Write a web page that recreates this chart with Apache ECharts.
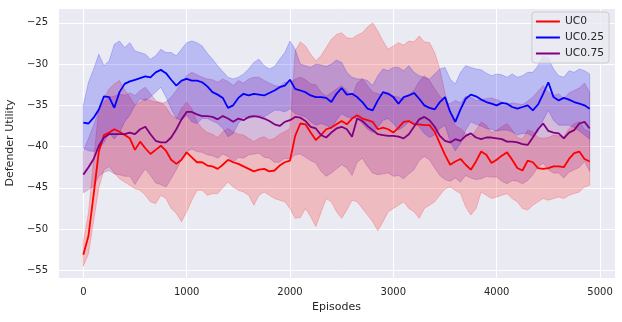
<!DOCTYPE html>
<html>
<head>
<meta charset="utf-8">
<script src="https://cdn.jsdelivr.net/npm/echarts@6/dist/echarts.min.js"></script>
<style>
html, body { margin: 0; padding: 0; background: #ffffff; }
#chart { width: 622px; height: 322px; }
</style>
</head>
<body>
<div id="chart"></div>
<script>
// episodes, every 50
let episodes = [
    0, 50, 100, 150, 200, 250, 300, 350, 400, 450,
    500, 550, 600, 650, 700, 750, 800, 850, 900, 950,
    1000, 1050, 1100, 1150, 1200, 1250, 1300, 1350, 1400, 1450,
    1500, 1550, 1600, 1650, 1700, 1750, 1800, 1850, 1900, 1950,
    2000, 2050, 2100, 2150, 2200, 2250, 2300, 2350, 2400, 2450,
    2500, 2550, 2600, 2650, 2700, 2750, 2800, 2850, 2900, 2950,
    3000, 3050, 3100, 3150, 3200, 3250, 3300, 3350, 3400, 3450,
    3500, 3550, 3600, 3650, 3700, 3750, 3800, 3850, 3900, 3950,
    4000, 4050, 4100, 4150, 4200, 4250, 4300, 4350, 4400, 4450,
    4500, 4550, 4600, 4650, 4700, 4750, 4800, 4850, 4900
];

// UC0
let uc0_mean = [
    -53.1, -50.8, -45.8, -40.6, -38.6, -38.3, -37.9, -38.2, -38.6, -39.0,
    -40.4, -39.4, -40.2, -40.9, -40.4, -39.9, -40.5, -41.6, -42.1, -41.6,
    -40.7, -41.3, -41.9, -41.9, -42.3, -42.4, -42.7, -42.2, -41.6, -41.9,
    -42.1, -42.4, -42.7, -43.0, -42.8, -42.7, -43.0, -42.9, -42.3, -41.9,
    -41.7, -38.7, -37.2, -37.3, -38.3, -39.2, -38.6, -37.9, -37.7, -37.3,
    -36.9, -37.3, -36.6, -36.2, -36.6, -36.8, -37.0, -37.9, -37.7, -37.9,
    -38.3, -37.7, -37.0, -36.9, -37.3, -37.3, -37.4, -37.4, -38.2, -39.6,
    -41.0, -42.2, -41.8, -41.5, -42.2, -42.8, -41.8, -40.6, -41.0, -42.0,
    -41.6, -41.1, -40.7, -41.6, -42.6, -42.9, -41.7, -41.9, -42.6, -42.7,
    -42.6, -42.4, -42.4, -42.5, -41.5, -40.8, -40.6, -41.5, -41.8
];
let uc0_upper = [
    -51.5, -48.0, -41.5, -35.5, -34.2, -33.0, -32.4, -32.0, -33.1, -34.0,
    -35.0, -34.6, -34.2, -34.4, -34.6, -34.6, -35.2, -36.2, -36.6, -35.4,
    -34.6, -35.4, -37.0, -37.8, -38.3, -38.5, -38.9, -38.2, -37.8, -38.2,
    -38.5, -38.6, -39.0, -39.4, -39.0, -38.8, -39.2, -39.0, -38.5, -38.2,
    -37.8, -28.4, -27.3, -27.8, -28.8, -29.6, -29.0, -28.0, -27.0, -26.4,
    -26.2, -26.8, -26.9, -26.5, -26.2, -25.5, -25.0, -26.0, -27.2, -28.2,
    -27.8, -27.4, -27.7, -27.2, -27.3, -26.6, -27.3, -27.4, -28.6, -30.6,
    -33.5, -35.8, -37.5, -37.8, -38.4, -38.8, -38.0, -37.0, -37.4, -38.3,
    -38.0, -37.6, -37.2, -38.0, -38.9, -39.1, -38.0, -38.2, -38.9, -39.0,
    -38.9, -38.6, -38.7, -38.8, -37.8, -37.2, -37.0, -37.9, -38.2
];
let uc0_lower = [
    -54.5, -53.0, -49.0, -45.0, -42.8, -42.4, -43.2, -43.9, -44.3, -44.7,
    -45.1, -45.3, -45.9, -46.7, -46.9, -45.9, -46.3, -47.5, -48.1, -49.1,
    -47.9, -46.5, -45.3, -45.3, -45.9, -45.7, -45.7, -45.0, -44.3, -44.9,
    -45.3, -45.5, -45.9, -47.1, -45.9, -45.5, -45.9, -46.3, -46.5, -46.7,
    -47.5, -48.7, -48.6, -47.5, -48.5, -49.7, -48.0, -46.3, -46.7, -47.9,
    -48.7, -47.7, -46.5, -46.7, -47.5, -48.3, -49.1, -50.2, -49.1, -47.9,
    -47.5, -47.1, -46.7, -47.5, -47.9, -48.7, -47.5, -47.1, -46.7, -45.9,
    -45.1, -44.9, -45.3, -45.7, -47.3, -48.3, -47.5, -45.5, -45.9, -46.3,
    -46.1, -45.9, -45.7, -46.3, -46.7, -47.5, -47.7, -47.1, -46.7, -46.3,
    -46.5, -46.3, -46.1, -46.3, -45.9, -45.7, -45.5, -44.9, -44.7
];

// UC0.25
let uc025_mean = [
    -37.1, -37.2, -36.5, -35.5, -33.9, -34.0, -35.3, -33.4, -32.4, -32.1,
    -31.9, -31.7, -31.5, -31.6, -31.0, -30.7, -31.1, -31.9, -32.6, -32.0,
    -31.8, -32.0, -32.0, -32.2, -32.7, -33.4, -33.7, -34.1, -35.3, -35.0,
    -34.1, -33.6, -33.8, -33.6, -33.7, -33.8, -33.5, -33.2, -32.8, -32.6,
    -31.9, -33.0, -33.2, -33.4, -33.8, -34.0, -34.0, -34.1, -34.6, -33.6,
    -32.9, -33.7, -33.6, -34.0, -34.6, -35.4, -35.6, -34.4, -33.4, -33.6,
    -34.0, -34.8, -34.0, -33.8, -33.5, -34.2, -35.0, -35.3, -35.5, -34.6,
    -34.0, -35.8, -37.0, -35.5, -34.2, -33.7, -33.9, -34.3, -34.6, -34.8,
    -35.0, -34.7, -34.8, -35.2, -35.4, -35.2, -35.0, -35.6, -34.9, -33.6,
    -32.2, -34.0, -34.4, -34.1, -34.3, -34.6, -34.8, -35.0, -35.4
];
let uc025_upper = [
    -35.0, -32.2, -30.6, -28.8, -30.2, -29.6, -27.6, -27.2, -28.0, -27.4,
    -28.4, -28.6, -28.8, -29.4, -29.0, -28.2, -28.6, -28.6, -29.0, -28.2,
    -27.4, -27.2, -27.4, -27.8, -28.7, -29.4, -30.2, -30.9, -31.6, -31.8,
    -31.6, -31.2, -30.6, -29.8, -29.4, -30.2, -30.6, -30.3, -29.4, -28.6,
    -27.2, -28.2, -30.0, -30.2, -30.4, -30.0, -30.1, -30.3, -30.0, -29.5,
    -29.8, -31.0, -31.6, -31.8, -31.8, -32.0, -32.6, -31.4, -30.6, -30.8,
    -30.4, -30.4, -30.8, -30.2, -31.0, -31.4, -31.6, -31.8, -31.2, -30.6,
    -30.4, -31.8, -32.4, -31.0, -30.2, -30.4, -30.6, -30.7, -31.1, -31.4,
    -31.2, -31.3, -31.6, -31.2, -31.6, -31.4, -31.0, -31.0, -30.2, -29.0,
    -29.3, -30.6, -31.4, -31.6, -30.8, -31.0, -30.6, -30.8, -31.2
];
let uc025_lower = [
    -40.2, -40.5, -40.6, -40.2, -39.5, -38.3, -39.1, -38.3, -37.0, -36.2,
    -35.0, -34.2, -34.4, -34.0, -33.4, -32.8, -34.0, -35.4, -36.6, -36.8,
    -36.2, -37.0, -37.2, -36.6, -36.6, -36.9, -37.2, -37.8, -38.8, -38.4,
    -37.2, -36.4, -36.6, -36.4, -36.2, -36.4, -36.0, -35.6, -35.6, -35.8,
    -35.4, -36.0, -36.2, -36.4, -37.0, -37.4, -37.2, -37.4, -37.8, -36.8,
    -36.0, -36.4, -36.5, -36.6, -37.2, -37.9, -38.3, -37.7, -36.8, -36.6,
    -37.2, -38.0, -37.6, -37.0, -37.1, -37.6, -38.4, -38.9, -38.6, -37.8,
    -37.4, -39.4, -40.5, -39.6, -38.0, -37.0, -37.3, -37.5, -37.8, -37.9,
    -38.1, -38.0, -38.0, -38.2, -38.6, -38.4, -38.4, -38.8, -38.2, -36.8,
    -35.6, -36.8, -37.4, -37.4, -37.4, -37.7, -38.1, -38.6, -39.1
];

// UC0.75
let uc075_mean = [
    -43.4, -42.5, -41.5, -39.9, -38.9, -38.5, -38.5, -38.5, -38.5, -38.3,
    -38.5, -37.9, -37.6, -38.5, -39.3, -39.5, -39.5, -38.9, -37.9, -36.7,
    -35.8, -35.8, -36.1, -36.3, -36.3, -36.4, -36.7, -36.3, -36.6, -37.0,
    -36.6, -36.8, -36.4, -36.3, -36.4, -36.6, -36.9, -37.3, -37.5, -37.0,
    -36.8, -36.4, -36.5, -36.9, -37.6, -37.8, -38.6, -38.9, -38.3, -37.8,
    -37.6, -37.9, -38.8, -36.6, -36.9, -37.5, -38.0, -38.5, -38.6, -38.7,
    -38.7, -38.8, -39.0, -38.5, -37.6, -36.7, -36.4, -36.8, -37.6, -38.7,
    -39.3, -39.5, -39.1, -39.3, -38.7, -38.4, -38.9, -39.1, -38.9, -38.9,
    -39.0, -39.1, -39.4, -39.4, -39.5, -39.7, -39.8, -38.9, -37.9, -37.2,
    -38.1, -38.3, -38.4, -39.0, -38.3, -38.0, -37.2, -37.0, -37.8
];
let uc075_upper = [
    -40.6, -39.0, -37.4, -35.6, -34.6, -34.0, -33.9, -33.6, -33.8, -33.5,
    -33.8, -33.2, -32.8, -33.6, -34.4, -34.8, -34.6, -34.0, -33.2, -32.2,
    -31.4, -31.0, -31.3, -31.6, -31.8, -31.9, -32.2, -31.8, -32.1, -32.6,
    -32.0, -32.3, -31.8, -31.6, -31.6, -32.0, -32.3, -32.6, -32.7, -32.2,
    -32.3, -31.8, -31.6, -31.9, -32.4, -32.5, -33.4, -33.9, -33.5, -33.0,
    -32.6, -33.2, -34.0, -32.3, -31.8, -32.6, -33.4, -33.6, -33.7, -33.4,
    -33.9, -34.0, -34.3, -33.7, -33.2, -32.1, -31.4, -32.0, -33.0, -33.9,
    -34.6, -34.8, -34.4, -34.7, -33.9, -34.0, -34.4, -34.3, -34.2, -34.1,
    -34.3, -34.6, -34.9, -34.7, -34.8, -34.9, -34.5, -34.0, -33.3, -32.6,
    -33.4, -33.8, -33.6, -34.2, -33.5, -33.2, -32.9, -32.3, -33.4
];
let uc075_lower = [
    -45.6, -45.2, -44.8, -43.6, -43.1, -42.9, -43.3, -43.4, -43.6, -43.6,
    -44.6, -43.6, -42.7, -43.5, -44.4, -44.6, -44.9, -43.9, -42.8, -41.6,
    -40.6, -40.3, -40.6, -40.7, -41.0, -41.1, -41.4, -40.9, -41.2, -41.9,
    -41.3, -41.4, -41.0, -40.9, -40.8, -41.3, -41.4, -41.9, -41.9, -41.4,
    -41.5, -41.0, -40.9, -41.3, -41.7, -42.0, -43.0, -43.6, -43.2, -42.7,
    -42.2, -42.6, -43.5, -41.9, -41.4, -42.4, -43.2, -43.4, -43.3, -43.2,
    -43.6, -43.5, -43.9, -43.3, -42.8, -41.7, -41.2, -41.6, -42.6, -43.5,
    -44.0, -44.2, -43.8, -44.3, -43.5, -43.8, -44.0, -43.9, -43.6, -43.7,
    -43.7, -44.2, -44.5, -44.1, -44.2, -44.5, -44.1, -43.4, -42.5, -42.0,
    -42.8, -43.2, -43.2, -43.8, -43.1, -42.8, -42.5, -41.8, -43.0
];

let names = ['UC0', 'UC0.25', 'UC0.75'];
let colors = ['#ff0000', '#0000ff', '#800080'];
let fills = ['rgba(255,0,0,0.2)', 'rgba(0,0,255,0.2)', 'rgba(128,0,128,0.2)'];

function lineSeries(i, mean) {
    return {
        name: names[i],
        type: 'line',
        data: mean.map(function (y, k) { return [episodes[k], y]; }),
        showSymbol: false,
        symbol: 'none',
        itemStyle: { color: colors[i] },
        lineStyle: { color: colors[i], width: 1.8 },
        silent: true
    };
}

// fill_between: one polygon through the axis coords
function bandSeries(i, lower, upper) {
    return {
        name: names[i] + ' band',
        type: 'custom',
        silent: true,
        clip: true,
        data: episodes.map(function (x, k) { return [x, lower[k], upper[k]]; }),
        encode: { x: 0, y: [1, 2] },
        renderItem: function (params, api) {
            if (params.dataIndex !== 0) return;
            let pts = [];
            for (let k = 0; k < episodes.length; k++) {
                pts.push(api.coord([episodes[k], upper[k]]));
            }
            for (let k = episodes.length - 1; k >= 0; k--) {
                pts.push(api.coord([episodes[k], lower[k]]));
            }
            return {
                type: 'polygon',
                shape: { points: pts },
                style: { fill: fills[i], stroke: fills[i], lineWidth: 1 }
            };
        }
    };
}

function minus(v) {
    return String(v).replace('-', '\u2212');
}

let series = [
    lineSeries(0, uc0_mean),
    bandSeries(0, uc0_lower, uc0_upper),
    lineSeries(1, uc025_mean),
    bandSeries(1, uc025_lower, uc025_upper),
    lineSeries(2, uc075_mean),
    bandSeries(2, uc075_lower, uc075_upper)
];

let myChart = echarts.init(document.getElementById('chart'), null, { renderer: 'canvas' });

let font = 'DejaVu Sans';
let option = {
    animation: false,
    backgroundColor: '#ffffff',
    textStyle: { fontFamily: font },
    grid: {
        left: 58, right: 7, top: 8, bottom: 44,
        outerBoundsMode: 'none',
        containLabel: false,
        show: true, backgroundColor: '#EAEAF2', borderWidth: 0
    },
    legend: {
        data: names,
        orient: 'vertical',
        right: 13,
        top: 12,
        icon: 'rect',
        itemWidth: 24,
        itemHeight: 2,
        itemGap: 3,
        padding: [3, 5, 3, 4],
        backgroundColor: 'rgba(234,234,242,0.8)',
        borderColor: '#cccccc',
        borderWidth: 1,
        borderRadius: 3,
        textStyle: { fontFamily: font, fontSize: 10.7, color: '#262626', lineHeight: 13 }
    },
    xAxis: {
        type: 'value',
        min: -245,
        max: 5145,
        splitNumber: 5,
        name: 'Episodes',
        nameLocation: 'middle',
        nameGap: 23,
        nameTextStyle: { fontFamily: font, fontSize: 11, color: '#262626' },
        axisLine: { show: false },
        axisTick: { show: false },
        axisLabel: {
            margin: 9, fontSize: 10, color: '#262626', fontFamily: font,
            showMinLabel: false, showMaxLabel: false,
            formatter: function (v) { return minus(v); }
        },
        splitLine: { show: true, lineStyle: { color: '#ffffff', width: 1 } }
    },
    yAxis: {
        type: 'value',
        min: -55.93,
        max: -23.2,
        splitNumber: 6,
        name: 'Defender Utility',
        nameLocation: 'middle',
        nameGap: 37,
        nameTextStyle: { fontFamily: font, fontSize: 11, color: '#262626' },
        axisLine: { show: false },
        axisTick: { show: false },
        axisLabel: {
            margin: 10, fontSize: 10, color: '#262626', fontFamily: font,
            showMinLabel: false, showMaxLabel: false,
            formatter: function (v) { return minus(v); }
        },
        splitLine: { show: true, lineStyle: { color: '#ffffff', width: 1 } }
    },
    series: series
};

myChart.setOption(option);
</script>
</body>
</html>
